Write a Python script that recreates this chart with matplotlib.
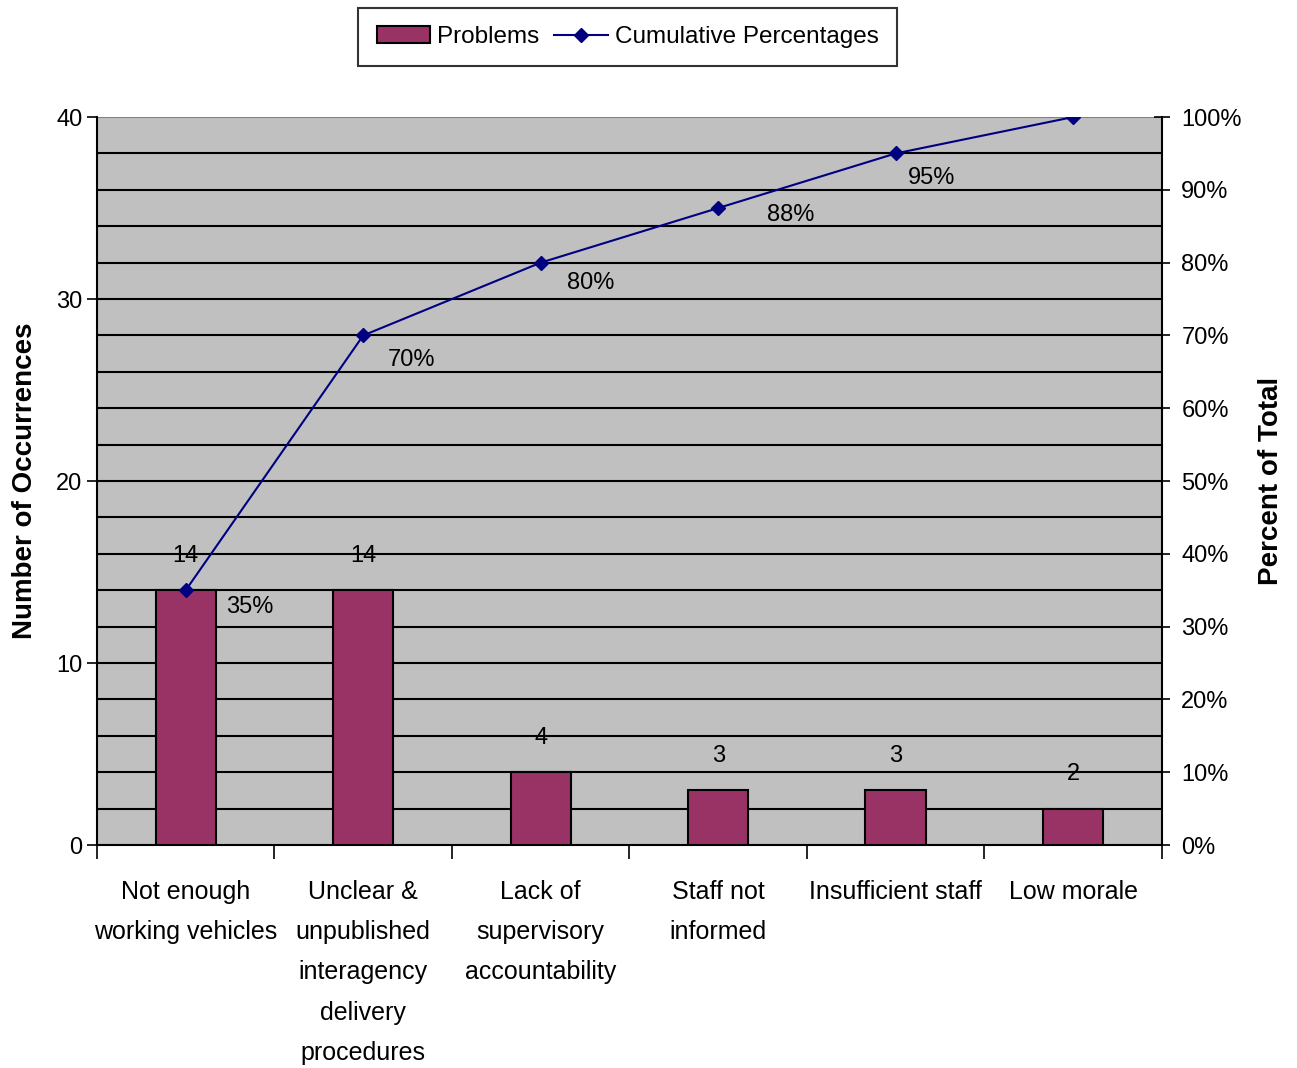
import numpy as np
import matplotlib.pyplot as plt
from matplotlib.lines import Line2D
from matplotlib.patches import Patch

# data
categories = ['Not enough\nworking vehicles',
              'Unclear &\nunpublished\ninteragency\ndelivery\nprocedures',
              'Lack of\nsupervisory\naccountability',
              'Staff not\ninformed',
              'Insufficient staff',
              'Low morale']
counts = [14, 14, 4, 3, 3, 2]
cum_pct = [35, 70, 80, 87.5, 95, 100]
cum_labels = ['35%', '70%', '80%', '88%', '95%', '']

# label placement (points), like Excel put them
pct_offsets = [(29, -12), (18, -18), (19, -15), (35, -5), (9, -18), (0, 0)]

plt.rcParams['font.family'] = ['Liberation Sans', 'DejaVu Sans']

fig = plt.figure(figsize=(12.97, 10.68), dpi=100)
ax = fig.add_axes([0.0748, 0.2088, 0.821, 0.6816])
ax.set_facecolor('#C0C0C0')

x = np.arange(len(categories))
ax.bar(x, counts, width=0.34, color='#993366', edgecolor='black', linewidth=1.5, zorder=3)
for xi, c in zip(x, counts):
    ax.annotate(str(c), (xi, c), xytext=(0, 17), textcoords='offset points',
                ha='center', va='bottom', fontsize=17)

ax.set_xlim(-0.5, len(categories) - 0.5)
ax.set_ylim(0, 40)
ax.set_yticks([0, 10, 20, 30, 40])
for g in range(2, 41, 2):
    ax.axhline(g, color='black' if g < 40 else '#808080', linewidth=1.5, zorder=1)

ax.set_xticks(x)
ax.set_xticklabels(categories, fontsize=18, linespacing=1.86)
ax.set_xticks(np.arange(-0.5, len(categories) + 0.5, 1), minor=True)
ax.tick_params(axis='x', which='major', length=0, pad=25)
ax.tick_params(axis='x', which='minor', length=10, width=1.2, direction='out')
ax.tick_params(axis='y', labelsize=17, length=7, width=1.2, direction='out')
ax.set_ylabel('Number of Occurrences', fontsize=20, fontweight='bold', labelpad=13)

for s in ['top', 'right']:
    ax.spines[s].set_visible(False)
ax.spines['left'].set_linewidth(1.5)
ax.spines['bottom'].set_linewidth(1.5)

ax2 = ax.twinx()
ax2.plot(x, cum_pct, color='#000080', linewidth=1.5, marker='D', markersize=7, zorder=5)
for xi, p, lab, off in zip(x, cum_pct, cum_labels, pct_offsets):
    if lab:
        ax2.annotate(lab, (xi, p), xytext=off, textcoords='offset points',
                     ha='left', va='center', fontsize=17)
ax2.set_ylim(0, 100)
ax2.set_yticks(range(0, 101, 10))
ax2.set_yticklabels([f'{v}%' for v in range(0, 101, 10)])
ax2.tick_params(axis='y', labelsize=17, length=12, width=1.2, direction='inout', pad=8)
ax2.set_ylabel('Percent of Total', fontsize=20, fontweight='bold', labelpad=12)
for s in ['top', 'left', 'bottom']:
    ax2.spines[s].set_visible(False)
ax2.spines['right'].set_linewidth(1.5)

handles = [Patch(facecolor='#993366', edgecolor='black', linewidth=1.5),
           Line2D([], [], color='#000080', marker='D', markersize=7, linewidth=1.5)]
fig.legend(handles, ['Problems', 'Cumulative Percentages'], loc='upper center',
           bbox_to_anchor=(0.484, 0.9925), borderaxespad=0, ncol=2, fontsize=17.5,
           frameon=True, fancybox=False, edgecolor='black', handlelength=2.2,
           columnspacing=0.6, handletextpad=0.3, borderpad=0.75).get_frame().set_linewidth(1.5)

fig.savefig('out.png', dpi=100)
